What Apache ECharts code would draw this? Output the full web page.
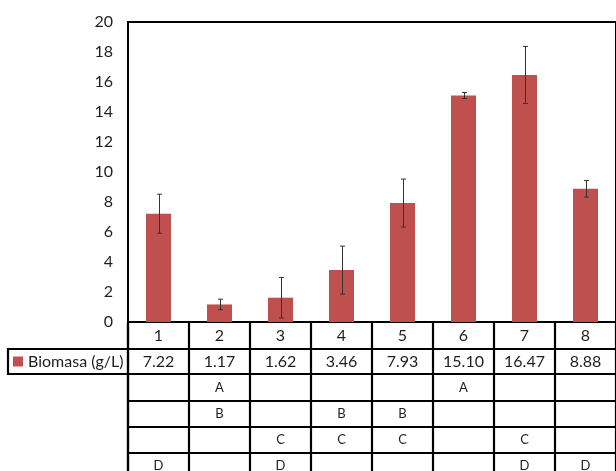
<!DOCTYPE html>
<html>
<head>
<meta charset="utf-8">
<script src="https://cdn.jsdelivr.net/npm/echarts@6/dist/echarts.min.js"></script>
<style>
html,body{margin:0;padding:0;background:#fff;}
#chart{width:616px;height:471px;}
</style>
</head>
<body>
<div id="chart"></div>
<script>
var categories = ['1','2','3','4','5','6','7','8'];
var biomasa = [7.22, 1.17, 1.62, 3.46, 7.93, 15.10, 16.47, 8.88];
var errors = [1.3, 0.35, 1.35, 1.6, 1.6, 0.2, 1.9, 0.55];
var rowA = ['', 'A', '', '', '', 'A', '', ''];
var rowB = ['', 'B', '', 'B', 'B', '', '', ''];
var rowC = ['', '', 'C', 'C', 'C', '', 'C', ''];
var rowD = ['D', '', 'D', '', '', '', 'D', 'D'];
var seriesName = 'Biomasa (g/L)';
var yTicks = [0, 2, 4, 6, 8, 10, 12, 14, 16, 18, 20];

var FONT = 'Lato, "Open Sans", sans-serif';
var RED = '#C0504D';
var TXT = '#1e1e1e';

var chart = echarts.init(document.getElementById('chart'), null, {renderer: 'canvas'});

var errData = biomasa.map(function (v, i) { return [i, v, errors[i]]; });

chart.setOption({
  animation: false,
  backgroundColor: '#fff',
  grid: {left: 128, top: 22, width: 492, height: 300, show: true, borderColor: '#000', borderWidth: 2, backgroundColor: 'transparent'},
  xAxis: {
    type: 'category', data: categories,
    axisLine: {show: true, lineStyle: {color: '#000', width: 2}},
    axisTick: {show: false},
    axisLabel: {fontFamily: FONT, fontSize: 16, color: TXT, margin: 6}
  },
  yAxis: {
    type: 'value', min: yTicks[0], max: yTicks[yTicks.length - 1], interval: 2,
    axisLine: {show: false}, axisTick: {show: false}, splitLine: {show: false},
    axisLabel: {fontFamily: FONT, fontSize: 16, color: TXT, margin: 15}
  },
  series: [
    {type: 'bar', name: seriesName, data: biomasa, barWidth: '41%', itemStyle: {color: RED}},
    {
      type: 'custom', data: errData, z: 5,
      renderItem: function (params, api) {
        var x = api.value(0), v = api.value(1), e = api.value(2);
        var top = api.coord([x, v + e]);
        var bot = api.coord([x, Math.max(0, v - e)]);
        var cx = Math.round(top[0]) + 0.5;
        var st = {stroke: '#333', lineWidth: 1};
        return {type: 'group', children: [
          {type: 'line', shape: {x1: cx, y1: top[1], x2: cx, y2: bot[1]}, style: st},
          {type: 'line', shape: {x1: cx - 2.5, y1: top[1], x2: cx + 2.5, y2: top[1]}, style: st},
          {type: 'line', shape: {x1: cx - 2.5, y1: bot[1], x2: cx + 2.5, y2: bot[1]}, style: st}
        ]};
      }
    }
  ]
});

// Build the data table from the axis scale
var centers = categories.map(function (c, i) { return chart.convertToPixel({xAxisIndex: 0}, i); });
var step = centers[1] - centers[0];
var bounds = [centers[0] - step / 2];
centers.forEach(function (c) { bounds.push(c + step / 2); });
var y0 = chart.convertToPixel({yAxisIndex: 0}, 0);
var rowHeights = [27, 25, 27, 26, 26, 26];
var rowY = [y0];
rowHeights.forEach(function (h) { rowY.push(rowY[rowY.length - 1] + h); });
var tableBottom = 480;
var g = [];
var line = {stroke: '#000', lineWidth: 2.2};
for (var r = 1; r < rowY.length; r++) {
  g.push({type: 'line', shape: {x1: bounds[0] - 1, y1: rowY[r], x2: bounds[bounds.length - 1] + 1, y2: rowY[r]}, style: line});
}
bounds.forEach(function (bx) {
  g.push({type: 'line', shape: {x1: bx, y1: y0, x2: bx, y2: tableBottom}, style: line});
});
// legend cell
var legLeft = 8;
g.push({type: 'line', shape: {x1: legLeft, y1: rowY[1], x2: bounds[0], y2: rowY[1]}, style: line});
g.push({type: 'line', shape: {x1: legLeft, y1: rowY[2], x2: bounds[0], y2: rowY[2]}, style: line});
g.push({type: 'line', shape: {x1: legLeft, y1: rowY[1] - 1, x2: legLeft, y2: rowY[2] + 1}, style: line});
var legMid = (rowY[1] + rowY[2]) / 2;
g.push({type: 'rect', shape: {x: 13, y: legMid - 5, width: 10, height: 10}, style: {fill: RED}});
g.push({type: 'text', x: 28, y: legMid, style: {text: seriesName, font: '16px ' + FONT, fill: TXT, verticalAlign: 'middle', align: 'left'}});
biomasa.forEach(function (v, i) {
  g.push({type: 'text', x: centers[i], y: legMid, style: {text: v.toFixed(2), font: '16px ' + FONT, fill: TXT, align: 'center', verticalAlign: 'middle'}});
});
[rowA, rowB, rowC, rowD].forEach(function (row, k) {
  var ym = (rowY[k + 2] + rowY[k + 3]) / 2;
  row.forEach(function (t, i) {
    if (t) g.push({type: 'text', x: centers[i], y: ym, style: {text: t, font: '13px ' + FONT, fill: TXT, align: 'center', verticalAlign: 'middle'}});
  });
});
g.push({type: 'line', shape: {x1: bounds[0], y1: y0, x2: bounds[0], y2: tableBottom}, style: line});
chart.setOption({graphic: {elements: g}});
</script>
</body>
</html>
